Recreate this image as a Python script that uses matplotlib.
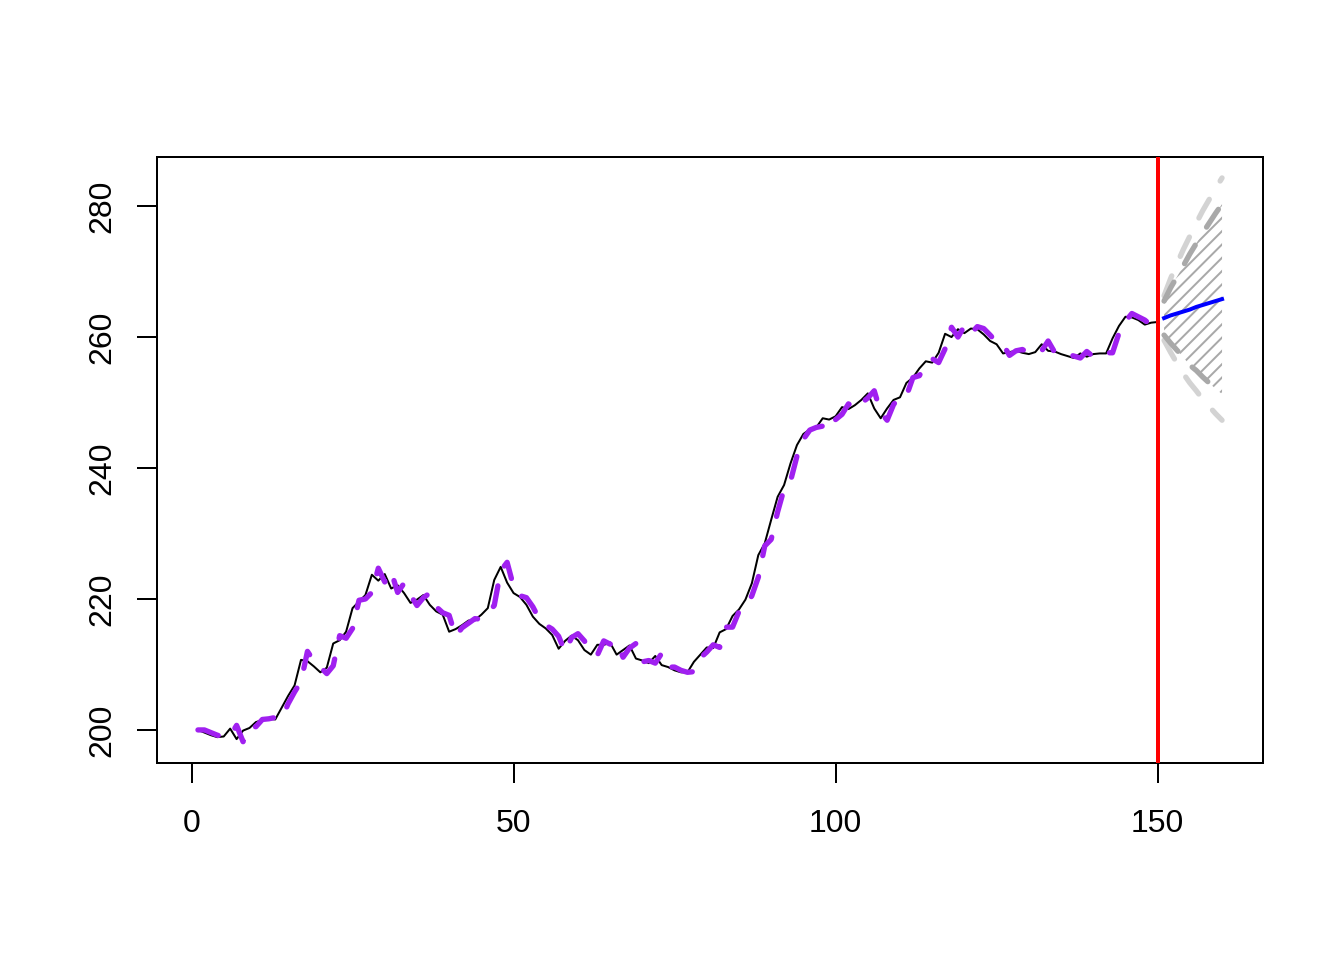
import numpy as np
import matplotlib
matplotlib.use("Agg")
import matplotlib.pyplot as plt
from matplotlib.patches import Polygon
from matplotlib.collections import LineCollection
from matplotlib.transforms import IdentityTransform

plt.rcParams['font.family'] = ['Liberation Sans', 'DejaVu Sans']

# observed series (t = 1..150)
observed = [
    200.0, 199.6, 199.2, 198.9, 199.0, 200.2, 198.6, 199.9, 200.3, 201.2,
    201.5, 201.7, 201.6, 203.4, 205.2, 206.8, 210.7, 210.5, 209.7, 208.8,
    209.5, 213.2, 213.7, 215.0, 218.6, 219.6, 220.6, 223.7, 222.8, 223.8,
    221.6, 222.1, 220.9, 219.4, 219.9, 220.6, 219.1, 218.1, 217.6, 215.0,
    215.4, 216.0, 216.7, 216.8, 217.6, 218.6, 222.9, 224.9, 222.5, 220.9,
    220.3, 219.1, 217.3, 216.2, 215.5, 214.5, 212.4, 213.6, 214.4, 213.7,
    212.2, 211.5, 213.0, 213.0, 213.3, 211.5, 212.2, 212.9, 210.9, 210.6,
    210.2, 211.3, 209.9, 209.6, 209.1, 208.8, 208.8, 210.4, 211.5, 212.6,
    212.5, 214.9, 215.4, 217.4, 218.4, 219.9, 222.4, 226.7, 228.5, 232.1,
    235.6, 237.4, 240.7, 243.5, 245.2, 245.9, 246.2, 247.6, 247.4, 247.9,
    249.3, 249.0, 249.6, 250.4, 251.4, 249.1, 247.6, 249.1, 250.4, 250.8,
    253.0, 253.8, 255.2, 256.3, 256.1, 257.6, 260.5, 260.0, 261.2, 260.6,
    261.3, 261.2, 260.4, 259.4, 258.9, 257.5, 257.7, 257.9, 257.6, 257.4,
    257.7, 258.9, 257.9, 257.8, 257.4, 257.1, 256.8, 257.5, 257.0, 257.4,
    257.5, 257.5, 259.8, 261.7, 263.1, 263.0, 262.6, 261.9, 262.2, 262.3,
]

# fitted values (purple dashed)
fitted = [
    200.0, 200.0, 199.6, 199.2, 198.9, 199.1, 200.7, 198.2, 200.4, 200.5,
    201.6, 201.7, 201.9, 201.7, 204.0, 205.8, 207.4, 212.0, 210.5, 209.6,
    208.6, 209.8, 214.4, 214.0, 215.5, 219.8, 220.0, 221.0, 224.7, 222.6,
    224.2, 221.0, 222.4, 220.6, 219.0, 220.2, 220.9, 218.8, 217.9, 217.5,
    214.3, 215.6, 216.3, 217.0, 216.9, 217.9, 219.0, 224.3, 225.6, 221.9,
    220.5, 220.2, 218.8, 216.9, 216.0, 215.4, 214.3, 211.9, 214.1, 214.7,
    213.6, 211.9, 211.4, 213.6, 213.1, 213.5, 211.1, 212.5, 213.2, 210.4,
    210.6, 210.2, 211.7, 209.6, 209.6, 209.1, 208.8, 208.9, 211.0, 211.9,
    213.0, 212.6, 215.7, 215.7, 218.1, 218.8, 220.5, 223.3, 228.1, 229.1,
    233.3, 236.8, 238.0, 241.8, 244.4, 245.8, 246.2, 246.4, 248.1, 247.4,
    248.2, 249.8, 249.0, 249.9, 250.7, 251.8, 248.5, 247.3, 249.7, 250.9,
    251.0, 253.8, 254.1, 255.7, 256.7, 256.1, 258.2, 261.5, 260.0, 261.7,
    260.5, 261.6, 261.3, 260.3, 259.2, 258.9, 257.2, 257.9, 258.1, 257.6,
    257.4, 257.9, 259.4, 257.7, 257.9, 257.4, 257.1, 256.8, 257.8, 257.0,
    257.6, 257.6, 257.6, 260.6, 262.4, 263.6, 263.1, 262.6, 261.8, 262.4,
]

# forecast (t = 151..160)
fc_mean = [262.9, 263.3, 263.6, 263.9, 264.2, 264.6, 264.9, 265.2, 265.5, 265.8]
fc_lo80 = [260.3, 259.1, 258.0, 256.9, 255.7, 254.9, 253.9, 253.0, 252.1, 251.3]
fc_hi80 = [265.5, 267.5, 269.2, 270.9, 272.7, 274.3, 275.9, 277.4, 278.9, 280.3]
fc_lo95 = [259.5, 257.7, 256.0, 254.4, 253.0, 251.8, 250.5, 249.4, 248.3, 247.3]
fc_hi95 = [266.3, 268.9, 271.2, 273.4, 275.4, 277.4, 279.3, 281.0, 282.7, 284.3]

split_at = 150
x_ticks = [0, 50, 100, 150]
y_ticks = [200, 220, 240, 260, 280]

t_obs = np.arange(1, len(observed) + 1)
t_fc = np.arange(len(observed) + 1, len(observed) + 1 + len(fc_mean))

fig = plt.figure(figsize=(7, 5), dpi=192)
ax = fig.add_axes([157/1344, 1 - 763/960, (1263-157)/1344, (763-157)/960])

ax.set_xlim(-5.36, 166.36)
ax.set_ylim(194.95, 287.5)

ax.plot(t_obs, observed, color='black', lw=0.75, zorder=3)
ax.plot(t_obs, fitted, color='#A020F0', lw=2.0, ls=(0, (4, 4)),
        dash_capstyle='round', zorder=4)

# hatched 80% band
verts = list(zip(t_fc, fc_hi80)) + list(zip(t_fc[::-1], fc_lo80[::-1]))
poly = Polygon(verts, closed=True, fill=False, edgecolor='none',
               transform=ax.transData)
ax.add_patch(poly)
fig.canvas.draw()
disp = ax.transData.transform(np.array(verts))
x0, x1 = disp[:, 0].min() - 5, disp[:, 0].max() + 5
y0, y1 = disp[:, 1].min() - 5, disp[:, 1].max() + 5
step = 13.3
cs = np.arange(y0 - x1, y1 - x0, step)
segs = [[(x0, x0 + c), (x1, x1 + c)] for c in cs]
lc = LineCollection(segs, colors='#A9A9A9', linewidths=0.75,
                    transform=IdentityTransform(), zorder=2)
lc.set_clip_path(poly)
ax.add_artist(lc)

ax.plot(t_fc, fc_hi95, color='#D3D3D3', lw=2.0, ls=(0, (4, 4)),
        dash_capstyle='round', zorder=3)
ax.plot(t_fc, fc_lo95, color='#D3D3D3', lw=2.0, ls=(0, (4, 4)),
        dash_capstyle='round', zorder=3)
ax.plot(t_fc, fc_hi80, color='#A9A9A9', lw=2.0, ls=(0, (4, 4)),
        dash_capstyle='round', zorder=3)
ax.plot(t_fc, fc_lo80, color='#A9A9A9', lw=2.0, ls=(0, (4, 4)),
        dash_capstyle='round', zorder=3)
ax.plot(t_fc, fc_mean, color='#0000FF', lw=1.5, zorder=5)

ax.axvline(split_at, color='#FF0000', lw=1.5, zorder=6)

for s in ax.spines.values():
    s.set_linewidth(0.75)
    s.set_color('black')

ax.set_xticks(x_ticks)
ax.set_yticks(y_ticks)
ax.set_xticklabels([str(v) for v in x_ticks])
ax.set_yticklabels([str(v) for v in y_ticks], rotation=90, va='center')
ax.tick_params(axis='both', direction='out', length=7.5, width=0.75,
               labelsize=12, colors='black')
ax.tick_params(axis='x', pad=9.6)
ax.tick_params(axis='y', pad=7.2)

fig.savefig('out.png', dpi=192)
